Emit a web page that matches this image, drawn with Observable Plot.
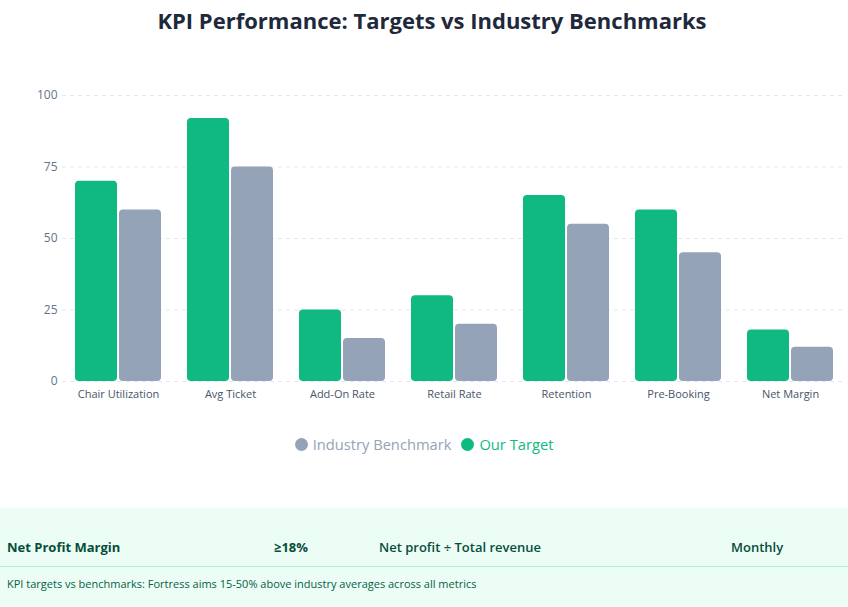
<!DOCTYPE html>
<html>
<head>
<meta charset="utf-8">
<script src="https://cdn.jsdelivr.net/npm/d3@7"></script>
<script src="https://cdn.jsdelivr.net/npm/@observablehq/plot@0.6"></script>
<style>
  html, body { margin: 0; padding: 0; background: #fff; width: 848px; height: 607px; overflow: hidden; font-family: "Open Sans", "Noto Sans", sans-serif; }
  #title { position: absolute; top: 5px; left: 8px; width: 848px; text-align: center; font-size: 22px; font-weight: 700; color: #1e293b; }
  #chart { position: absolute; top: 50px; left: 0; }
  #legend { position: absolute; top: 434px; left: 0; width: 848px; display: flex; justify-content: center; gap: 10px; font-size: 14.7px; }
  #legend span.item { display: inline-flex; align-items: center; gap: 5px; }
  #legend span.dot { display: inline-block; width: 13px; height: 13px; border-radius: 50%; }
  #panel { position: absolute; top: 508px; left: 0; width: 848px; height: 99px; background: #ecfdf5; }
  #row { position: absolute; top: 30px; left: 0; width: 848px; height: 28px; border-bottom: 1px solid #a7f3d0; font-size: 13px; color: #064e3b; }
  #row div { position: absolute; top: 0px; white-space: nowrap; }
  #caption { position: absolute; top: 68px; left: 7px; font-size: 11px; color: #065f46; }
</style>
</head>
<body>
<div id="title"></div>
<div id="chart"></div>
<div id="legend"></div>
<div id="panel">
  <div id="row"></div>
  <div id="caption"></div>
</div>
<script>
const titleText = "KPI Performance: Targets vs Industry Benchmarks";
const categories = ["Chair Utilization", "Avg Ticket", "Add-On Rate", "Retail Rate", "Retention", "Pre-Booking", "Net Margin"];
const targetValues = [70, 92, 25, 30, 65, 60, 18];
const benchmarkValues = [60, 75, 15, 20, 55, 45, 12];
const seriesNames = ["Our Target", "Industry Benchmark"];
const seriesColors = ["#10b981", "#94a3b8"];
const legendOrder = ["Industry Benchmark", "Our Target"];
const yTicks = [0, 25, 50, 75, 100];
const tableRow = ["Net Profit Margin", "≥18%", "Net profit ÷ Total revenue", "Monthly"];
const captionText = "KPI targets vs benchmarks: Fortress aims 15-50% above industry averages across all metrics";

const data = [];
categories.forEach((c, i) => {
  data.push({category: c, series: seriesNames[0], value: targetValues[i]});
  data.push({category: c, series: seriesNames[1], value: benchmarkValues[i]});
});

const plot = Plot.plot({
  width: 848,
  height: 361,
  marginLeft: 60,
  marginRight: 0,
  marginTop: 45,
  marginBottom: 30,
  style: {fontFamily: "'Open Sans', 'Noto Sans', sans-serif", background: "transparent"},
  fx: {domain: categories, paddingInner: 0, paddingOuter: 0, label: null},
  x: {domain: seriesNames, paddingInner: 0.044, paddingOuter: 0.27, axis: null},
  y: {domain: [0, 100], label: null},
  color: {domain: seriesNames, range: seriesColors},
  marks: [
    Plot.ruleY(yTicks, {stroke: "#e2e8f0", strokeDasharray: "4,4", strokeWidth: 1}),
    Plot.barY(data, {fx: "category", x: "series", y: "value", fill: "series", rx: 4}),
    Plot.axisY(yTicks, {tickSize: 0, tickPadding: 5, fontSize: 12, color: "#64748b", label: null}),
    Plot.axisFx({anchor: "bottom", tickSize: 0, tickPadding: 9, fontSize: 11, color: "#475569", label: null})
  ]
});
document.getElementById("chart").appendChild(plot);

document.getElementById("title").textContent = titleText;

const legend = document.getElementById("legend");
legendOrder.forEach(name => {
  const col = seriesColors[seriesNames.indexOf(name)];
  const item = document.createElement("span");
  item.className = "item";
  item.innerHTML = `<span class="dot" style="background:${col}"></span><span style="color:${col}">${name}</span>`;
  legend.appendChild(item);
});

const row = document.getElementById("row");
const rowLefts = [7, 274, 379, 731];
const rowWeights = [700, 700, 600, 600];
tableRow.forEach((t, i) => {
  const d = document.createElement("div");
  d.textContent = t;
  d.style.left = rowLefts[i] + "px";
  d.style.fontWeight = rowWeights[i];
  row.appendChild(d);
});
document.getElementById("caption").textContent = captionText;
</script>
</body>
</html>
